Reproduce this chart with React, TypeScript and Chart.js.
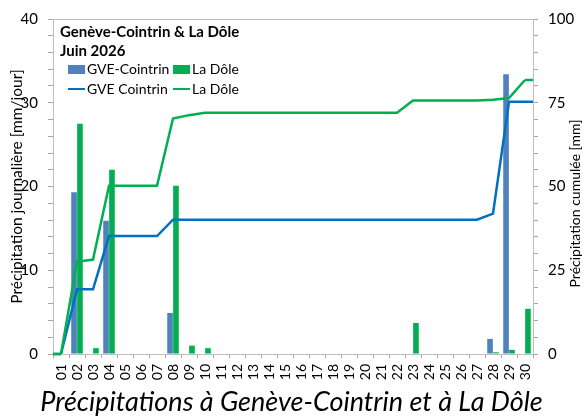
import { useEffect, useRef } from 'react';
import { Chart, registerables } from 'chart.js';

Chart.register(...registerables);

const FONT = "Lato, 'Open Sans', sans-serif";

// Days of June
const days = [
  '01', '02', '03', '04', '05', '06', '07', '08', '09', '10',
  '11', '12', '13', '14', '15', '16', '17', '18', '19', '20',
  '21', '22', '23', '24', '25', '26', '27', '28', '29', '30',
];

// Daily precipitation [mm/jour]
const gveDaily = [
  0, 19.3, 0, 15.9, 0, 0, 0, 4.9, 0, 0,
  0, 0, 0, 0, 0, 0, 0, 0, 0, 0,
  0, 0, 0, 0, 0, 0, 0, 1.8, 33.4, 0,
];
const doleDaily = [
  0, 27.5, 0.7, 22.0, 0, 0, 0, 20.1, 1.0, 0.7,
  0, 0, 0, 0, 0, 0, 0, 0, 0, 0,
  0, 0, 3.7, 0, 0, 0, 0, 0.2, 0.5, 5.4,
];

// Cumulative precipitation [mm]
const gveCumul = [
  0, 19.3, 19.3, 35.2, 35.2, 35.2, 35.2, 40.1, 40.1, 40.1,
  40.1, 40.1, 40.1, 40.1, 40.1, 40.1, 40.1, 40.1, 40.1, 40.1,
  40.1, 40.1, 40.1, 40.1, 40.1, 40.1, 40.1, 41.9, 75.3, 75.3,
];
const doleCumul = [
  0, 27.5, 28.2, 50.2, 50.2, 50.2, 50.2, 70.3, 71.3, 72.0,
  72.0, 72.0, 72.0, 72.0, 72.0, 72.0, 72.0, 72.0, 72.0, 72.0,
  72.0, 72.0, 75.7, 75.7, 75.7, 75.7, 75.7, 75.9, 76.4, 81.8,
];

const legendTitle = ['Genève-Cointrin & La Dôle', 'Juin 2026'];
const seriesNames = ['GVE-Cointrin', 'La Dôle', 'GVE Cointrin', 'La Dôle'];
const leftAxisTitle = 'Précipitation journalière [mm/jour]';
const rightAxisTitle = 'Précipitation cumulée [mm]';
const chartTitle = 'Précipitations à Genève-Cointrin et à La Dôle';

const BLUE_BAR = '#4F81BD';
const GREEN = '#00B050';
const BLUE_LINE = '#0070C0';
const AXIS_GREY = '#A6A6A6';

// Border around the plot area
const plotFrame = {
  id: 'plotFrame',
  beforeDatasetsDraw(chart: any) {
    const { ctx, chartArea: a } = chart;
    ctx.save();
    ctx.strokeStyle = '#BFBFBF';
    ctx.lineWidth = 1;
    ctx.strokeRect(Math.round(a.left) + 0.5, Math.round(a.top) + 0.5, Math.round(a.right - a.left), Math.round(a.bottom - a.top));
    ctx.restore();
  },
};

// Continue cumulative lines flat to both plot edges
const lineEdges = {
  id: 'lineEdges',
  afterDatasetsDraw(chart: any) {
    const { ctx, chartArea: a } = chart;
    chart.data.datasets.forEach((ds: any, i: number) => {
      if (ds.type !== 'line') return;
      const pts = chart.getDatasetMeta(i).data;
      if (!pts.length) return;
      const first = pts[0];
      const last = pts[pts.length - 1];
      ctx.save();
      ctx.strokeStyle = ds.borderColor;
      ctx.lineWidth = ds.borderWidth;
      ctx.beginPath();
      ctx.moveTo(a.left, first.y);
      ctx.lineTo(first.x, first.y);
      ctx.moveTo(last.x, last.y);
      ctx.lineTo(a.right, last.y);
      ctx.stroke();
      ctx.restore();
    });
  },
};

// Legend with its heading, placed inside the plot area
const insetLegend = {
  id: 'insetLegend',
  afterDraw(chart: any) {
    const { ctx, chartArea: a } = chart;
    ctx.save();
    ctx.fillStyle = '#000';
    ctx.textAlign = 'left';
    ctx.textBaseline = 'middle';
    ctx.font = `bold 15px ${FONT}`;
    ctx.fillText(legendTitle[0], a.left + 7, a.top + 13);
    ctx.fillText(legendTitle[1], a.left + 7, a.top + 32);
    ctx.font = `14px ${FONT}`;
    const cols = [a.left + 15, a.left + 120];
    const rows = [a.top + 50, a.top + 70];
    chart.data.datasets.forEach((ds: any, i: number) => {
      const x = cols[i % 2];
      const y = rows[Math.floor(i / 2)];
      if (ds.type === 'line') {
        ctx.strokeStyle = ds.borderColor;
        ctx.lineWidth = 2;
        ctx.beginPath();
        ctx.moveTo(x, y);
        ctx.lineTo(x + 17, y);
        ctx.stroke();
      } else {
        ctx.fillStyle = ds.backgroundColor;
        ctx.fillRect(x, y - 4, 17, 9);
      }
      ctx.fillStyle = '#000';
      ctx.fillText(ds.label, x + 19, y);
    });
    ctx.restore();
  },
};

// Axis titles, both reading bottom to top
const axisTitles = {
  id: 'axisTitles',
  afterDraw(chart: any) {
    const { ctx, chartArea: a } = chart;
    const mid = (a.top + a.bottom) / 2;
    ctx.save();
    ctx.fillStyle = '#000';
    ctx.textAlign = 'center';
    ctx.textBaseline = 'middle';
    ctx.save();
    ctx.font = `15.5px ${FONT}`;
    ctx.translate(17, mid);
    ctx.rotate(-Math.PI / 2);
    ctx.fillText(leftAxisTitle, 0, 0);
    ctx.restore();
    ctx.save();
    ctx.font = `14px ${FONT}`;
    ctx.translate(chart.width - 8, mid + 17);
    ctx.rotate(-Math.PI / 2);
    ctx.fillText(rightAxisTitle, 0, 0);
    ctx.restore();
    ctx.restore();
  },
};

export default function App() {
  const canvasRef = useRef<HTMLCanvasElement | null>(null);

  useEffect(() => {
    if (!canvasRef.current) return;
    const chart = new Chart(canvasRef.current, {
      type: 'bar',
      data: {
        labels: days,
        datasets: [
          {
            type: 'bar',
            label: seriesNames[0],
            data: gveDaily,
            backgroundColor: BLUE_BAR,
            yAxisID: 'y',
            order: 2,
            barPercentage: 0.95,
            categoryPercentage: 0.74,
          },
          {
            type: 'bar',
            label: seriesNames[1],
            data: doleDaily,
            backgroundColor: GREEN,
            yAxisID: 'y',
            order: 2,
            barPercentage: 0.95,
            categoryPercentage: 0.74,
          },
          {
            type: 'line',
            label: seriesNames[2],
            data: gveCumul,
            borderColor: BLUE_LINE,
            backgroundColor: BLUE_LINE,
            borderWidth: 2.5,
            pointRadius: 0,
            tension: 0,
            yAxisID: 'y2',
            order: 1,
          },
          {
            type: 'line',
            label: seriesNames[3],
            data: doleCumul,
            borderColor: GREEN,
            backgroundColor: GREEN,
            borderWidth: 2.5,
            pointRadius: 0,
            tension: 0,
            yAxisID: 'y2',
            order: 0,
          },
        ],
      } as any,
      options: {
        animation: false,
        responsive: true,
        maintainAspectRatio: false,
        layout: { padding: { top: 18, left: 0, right: 0, bottom: 0 } },
        plugins: {
          legend: { display: false },
          tooltip: { enabled: false },
          title: {
            display: true,
            position: 'bottom',
            text: chartTitle,
            color: '#000',
            padding: 0,
            font: { family: FONT, size: 27, style: 'italic', weight: 'normal', lineHeight: 1 },
          },
        },
        scales: {
          x: {
            offset: true,
            grid: { offset: true, drawOnChartArea: false, drawTicks: true, tickLength: 4, color: AXIS_GREY },
            border: { display: true, color: AXIS_GREY },
            ticks: {
              autoSkip: false,
              minRotation: 90,
              maxRotation: 90,
              padding: 6,
              color: '#000',
              font: { family: FONT, size: 14 },
            },
            afterFit: (s: any) => { s.height = 35; },
          },
          y: {
            position: 'left',
            min: 0,
            max: 40,
            grid: { drawOnChartArea: false, drawTicks: true, tickLength: 5, color: AXIS_GREY },
            border: { display: true, color: AXIS_GREY },
            ticks: {
              stepSize: 2,
              autoSkip: false,
              padding: 10,
              color: '#000',
              font: { family: FONT, size: 15 },
              callback: (v: any) => (Number(v) % 10 === 0 ? String(v) : ''),
            },
            afterFit: (s: any) => { s.width = 53; },
          },
          y2: {
            position: 'right',
            min: 0,
            max: 100,
            grid: { drawOnChartArea: false, drawTicks: true, tickLength: 5, color: AXIS_GREY },
            border: { display: true, color: AXIS_GREY },
            ticks: {
              stepSize: 5,
              autoSkip: false,
              padding: 10,
              color: '#000',
              font: { family: FONT, size: 15 },
              callback: (v: any) => (Number(v) % 25 === 0 ? String(v) : ''),
            },
            afterFit: (s: any) => { s.width = 50; },
          },
        },
      } as any,
      plugins: [plotFrame, lineEdges, insetLegend, axisTitles],
    });
    return () => chart.destroy();
  }, []);

  return (
    <div style={{ position: 'fixed', left: 0, top: 0, width: 583, height: 416, background: '#fff' }}>
      <canvas ref={canvasRef} />
    </div>
  );
}
